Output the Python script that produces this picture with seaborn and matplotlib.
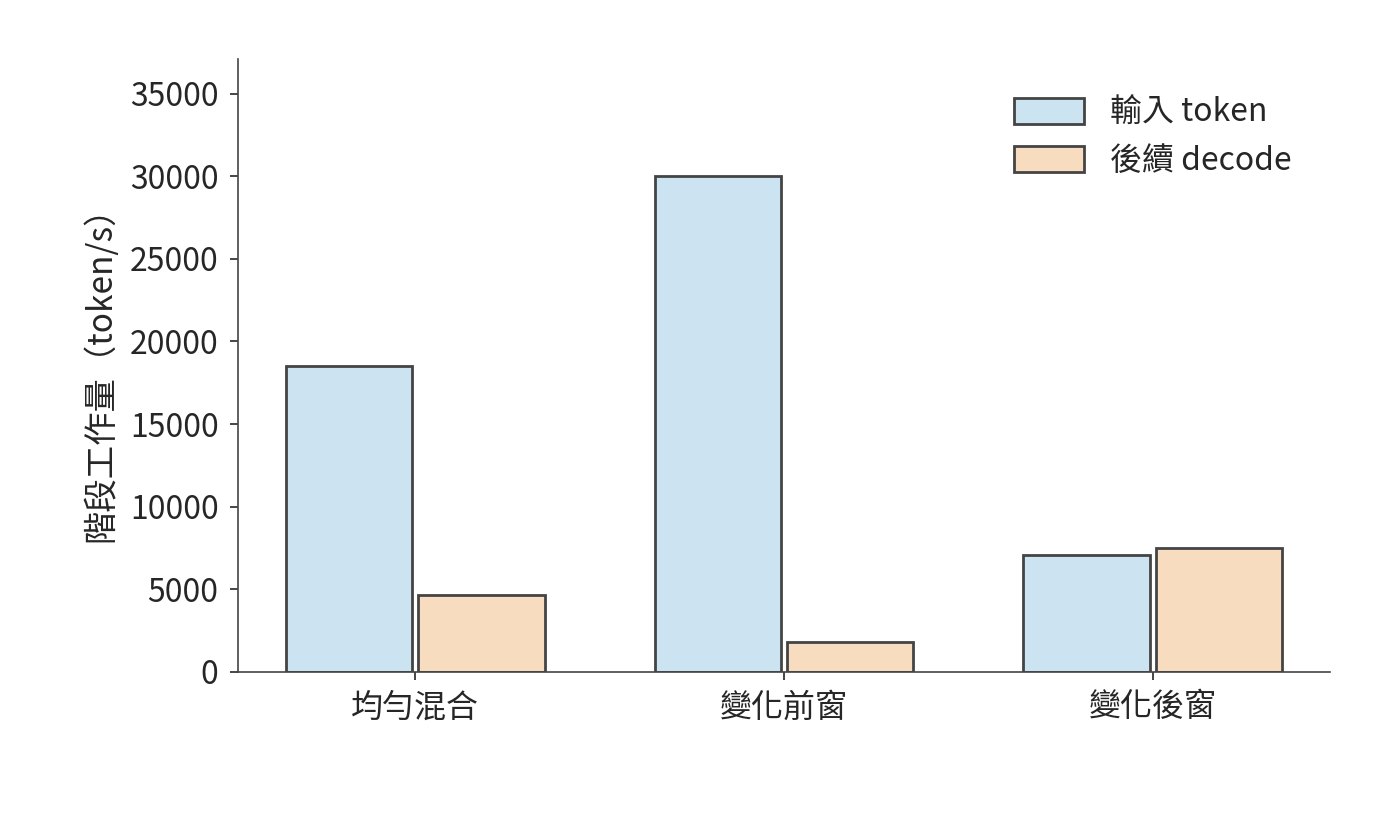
import matplotlib
matplotlib.use("Agg")
import matplotlib.pyplot as plt
import seaborn as sns
import pandas as pd

categories = ["均勻混合", "變化前窗", "變化後窗"]
series = ["輸入 token", "後續 decode"]
input_vals = [18500, 30000, 7050]
decode_vals = [4650, 1800, 7500]
colors = ["#cce3f2", "#f8dcbf"]

sns.set_theme(style="ticks")
plt.rcParams['font.family'] = ['Noto Sans CJK TC', 'DejaVu Sans']

df = pd.DataFrame({
    "cat": categories * 2,
    "series": [series[0]] * 3 + [series[1]] * 3,
    "val": input_vals + decode_vals,
})

fig = plt.figure(figsize=(14, 8.4), dpi=100)
ax = fig.add_axes([0.17, 0.2, 0.78, 0.73])
sns.barplot(data=df, x="cat", y="val", hue="series", palette=colors,
            saturation=1, width=0.72, gap=0.05, edgecolor="#444444",
            linewidth=2, ax=ax)
ax.set_xlim(-0.48, 2.48)
ax.set_ylim(0, 37100)
ax.set_yticks(range(0, 35001, 5000))
ax.set_xlabel("")
ax.set_ylabel("階段工作量（token/s）", fontsize=24, color="#262626", labelpad=8)
ax.tick_params(labelsize=23, colors="#262626", width=1.2, length=6, pad=8)
for s in ["top", "right"]:
    ax.spines[s].set_visible(False)
for s in ["left", "bottom"]:
    ax.spines[s].set_color("#444444")
    ax.spines[s].set_linewidth(1.2)
ax.legend(title=None, frameon=False, fontsize=23, loc="upper right",
          handlelength=2.2, handleheight=0.9, borderaxespad=0.8)
fig.savefig("out.png")
